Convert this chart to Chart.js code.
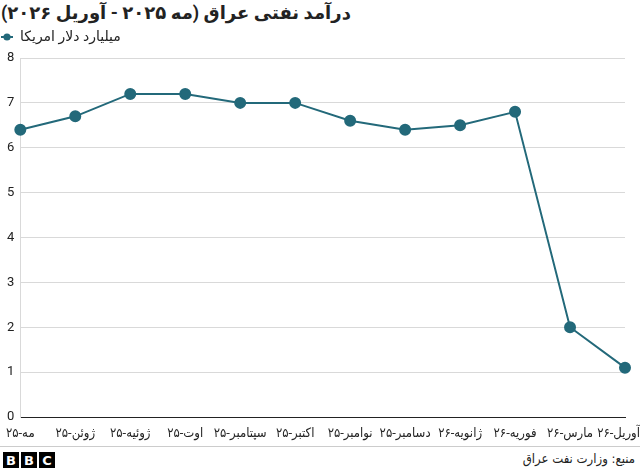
<!DOCTYPE html>
<html lang="fa">
<head>
    <meta charset="UTF-8">
    <title>درآمد نفتی عراق</title>
    <script src="https://cdn.jsdelivr.net/npm/chart.js"></script>
    <style>
        body { margin: 0; width: 640px; height: 470px; background: #fff; position: relative; overflow: hidden;
               font-family: Roboto, "DejaVu Sans", sans-serif; color: #222; }
        #title { position: absolute; left: 1px; top: 2px; font-size: 18px; font-weight: bold; direction: rtl; white-space: nowrap; }
        .chart-box { position: absolute; left: 0; top: 0; width: 640px; height: 445px; }
        #footer { position: absolute; left: 0; top: 446px; width: 640px; height: 24px; border-top: 1px solid #ccc; }
        .bbc { position: absolute; left: 3px; top: 5px; display: flex; gap: 2px; }
        .bbc span { width: 16px; height: 16px; background: #000; color: #fff; font: bold 13px "DejaVu Sans", sans-serif;
                    display: flex; align-items: center; justify-content: center; }
        .source { position: absolute; right: 5px; top: 4px; font-size: 13px; direction: rtl;
                  font-family: "DejaVu Sans Condensed", "DejaVu Sans", sans-serif; }
    </style>
</head>
<body>
    <div id="title">درآمد نفتی عراق (مه ۲۰۲۵ - آوریل ۲۰۲۶)</div>
    <div class="chart-box">
        <canvas id="oilChart" dir="rtl"></canvas>
    </div>
    <div id="footer">
        <div class="bbc"><span>B</span><span>B</span><span>C</span></div>
        <div class="source">منبع: وزارت نفت عراق</div>
    </div>

    <script>
        // months, left to right (May 2025 - April 2026)
        const months = ['مه-۲۵', 'ژوئن-۲۵', 'ژوئیه-۲۵', 'اوت-۲۵', 'سپتامبر-۲۵', 'اکتبر-۲۵',
                        'نوامبر-۲۵', 'دسامبر-۲۵', 'ژانویه-۲۶', 'فوریه-۲۶', 'مارس-۲۶', 'آوریل-۲۶'];
        // oil revenue, billion US dollars
        const revenue = [6.4, 6.7, 7.2, 7.2, 7.0, 7.0, 6.6, 6.4, 6.5, 6.8, 2.0, 1.1];
        const seriesName = 'میلیارد دلار آمریکا';
        const yTicks = [0, 1, 2, 3, 4, 5, 6, 7, 8];

        const lineColor = '#23697a';
        const fontFamily = 'Roboto, "DejaVu Sans", sans-serif';
        const labelFont = 'Roboto, "DejaVu Sans Condensed", "DejaVu Sans", sans-serif';

        // legend marker: short line with a dot
        const marker = document.createElement('canvas');
        marker.width = 12;
        marker.height = 8;
        const mctx = marker.getContext('2d');
        mctx.strokeStyle = lineColor;
        mctx.fillStyle = lineColor;
        mctx.lineWidth = 2;
        mctx.beginPath();
        mctx.moveTo(0, 4);
        mctx.lineTo(12, 4);
        mctx.stroke();
        mctx.beginPath();
        mctx.arc(6, 4, 3.6, 0, Math.PI * 2);
        mctx.fill();

        // a bit more room under the legend
        const legendGap = {
            id: 'legendGap',
            beforeInit(chart) {
                const fit = chart.legend.fit;
                chart.legend.fit = function () {
                    fit.call(this);
                    this.height += 4;
                };
            }
        };

        const ctx = document.getElementById('oilChart').getContext('2d');
        const oilChart = new Chart(ctx, {
            type: 'line',
            data: {
                labels: months,
                datasets: [{
                    label: seriesName,
                    data: revenue,
                    borderColor: lineColor,
                    backgroundColor: lineColor,
                    borderWidth: 2,
                    pointRadius: 5,
                    pointHoverRadius: 5,
                    tension: 0
                }]
            },
            options: {
                responsive: true,
                maintainAspectRatio: false,
                animation: false,
                layout: { padding: { top: 30, left: 1, right: 15, bottom: 0 } },
                plugins: {
                    title: { display: false },
                    tooltip: { enabled: false },
                    legend: {
                        position: 'top',
                        align: 'start',
                        labels: {
                            usePointStyle: true,
                            pointStyle: marker,
                            boxWidth: 12,
                            boxHeight: 8,
                            padding: 0,
                            color: '#222',
                            font: { family: fontFamily, size: 14 }
                        }
                    }
                },
                scales: {
                    x: {
                        offset: false,
                        grid: { display: false, drawTicks: false },
                        border: { display: true, color: '#222', width: 1 },
                        ticks: {
                            autoSkip: false,
                            maxRotation: 0,
                            color: '#222',
                            padding: 9,
                            font: { family: labelFont, size: 13 },
                            callback: function (value, index) {
                                const label = months[index];
                                // keep the last label inside the picture
                                return index === months.length - 1 ? '\u00A0\u00A0\u00A0\u00A0' + label : label;
                            }
                        },
                        afterFit: function (scale) {
                            scale.paddingLeft = 0;
                            scale.paddingRight = 0;
                            scale.height = 28;
                        }
                    },
                    y: {
                        min: yTicks[0],
                        max: yTicks[yTicks.length - 1],
                        afterBuildTicks: function (scale) {
                            scale.ticks = yTicks.map(v => ({ value: v }));
                        },
                        grid: {
                            color: c => (c.tick && c.tick.value === 0) ? '#222' : '#d9d9d9',
                            drawTicks: false
                        },
                        border: { display: true, color: '#d9d9d9' },
                        ticks: {
                            color: '#222',
                            padding: 6,
                            font: { family: fontFamily, size: 13 }
                        }
                    }
                }
            },
            plugins: [legendGap]
        });
    </script>
</body>
</html>
